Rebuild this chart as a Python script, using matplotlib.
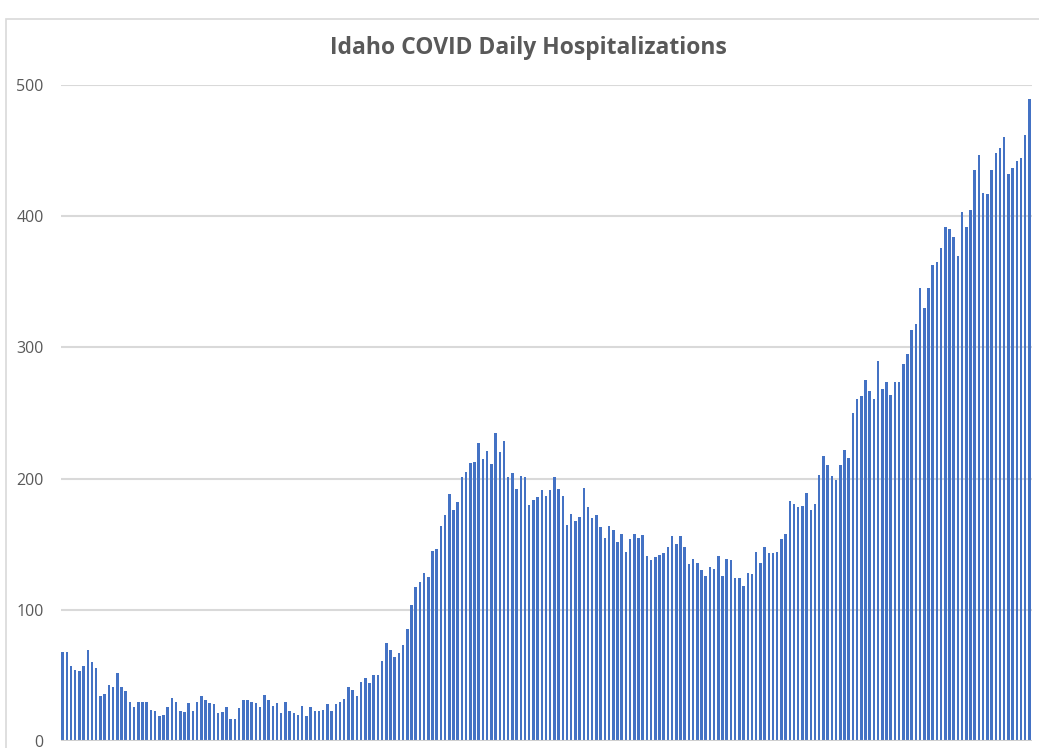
import numpy as np
import matplotlib
matplotlib.use("Agg")
import matplotlib.pyplot as plt
from matplotlib.patches import Rectangle

# daily hospitalizations (231 days)
hosp = [
    68, 68, 57, 54, 53, 57, 69, 60, 56, 34, 36, 43, 41, 52, 41, 38, 30, 26, 30, 30,
    30, 24, 23, 19, 20, 26, 33, 30, 23, 22, 29, 23, 30, 34, 31, 29, 28, 21, 22, 26,
    17, 17, 25, 31, 31, 30, 29, 26, 35, 31, 27, 29, 21, 30, 23, 21, 20, 27, 19, 26,
    23, 23, 24, 28, 23, 28, 30, 32, 41, 39, 34, 45, 48, 44, 50, 50, 61, 75, 69, 64,
    67, 73, 85, 104, 117, 121, 128, 125, 145, 146, 164, 172, 188, 176, 182, 201, 205, 212, 213, 227,
    215, 221, 211, 235, 220, 229, 201, 204, 192, 202, 201, 180, 184, 186, 191, 187, 191, 201, 192, 187,
    165, 173, 168, 171, 193, 178, 170, 172, 163, 155, 164, 161, 152, 158, 144, 154, 158, 155, 157, 141,
    138, 140, 142, 143, 148, 156, 150, 156, 148, 135, 139, 136, 130, 126, 133, 131, 141, 126, 139, 138,
    124, 124, 118, 128, 127, 144, 136, 148, 143, 143, 144, 154, 158, 183, 181, 178, 179, 189, 176, 181,
    203, 217, 210, 202, 199, 210, 222, 216, 250, 261, 263, 275, 267, 261, 290, 268, 274, 264, 274, 274,
    287, 295, 313, 318, 345, 330, 345, 363, 365, 376, 392, 390, 384, 370, 403, 392, 405, 435, 447, 418,
    417, 435, 448, 452, 460, 432, 437, 442, 444, 462, 489,
]
yticks = [0, 100, 200, 300, 400, 500]
title = "Idaho COVID Daily Hospitalizations"

W, H = 1039, 748
fig = plt.figure(figsize=(W / 100, H / 100), dpi=100)
fig.patch.set_facecolor("white")

# chart-area border (cropped screenshot of a spreadsheet chart)
fig.patches.append(Rectangle((5.5 / W, -0.05), 1.1, (H - 19) / H + 0.05,
                             transform=fig.transFigure, fill=False,
                             edgecolor="#d9d9d9", lw=1.2))

ax = fig.add_axes([60.5 / W, (H - 741) / H, 971 / W, (741 - 85) / H])
x = np.arange(len(hosp))
ax.bar(x, hosp, width=0.6, color="#4472C4", zorder=2)
ax.set_xlim(-0.5, len(hosp) - 0.5)
ax.set_ylim(0, 500)
ax.set_yticks(yticks)
ax.yaxis.grid(True, color="#d9d9d9", lw=1.5, zorder=0)
ax.axhline(0, color="#d0d0d0", lw=1.5, zorder=3)
ax.set_xticks([])
for s in ax.spines.values():
    s.set_visible(False)
ax.tick_params(axis="y", length=0, pad=12, labelsize=11.5, labelcolor="#595959")
for lab in ax.get_yticklabels():
    lab.set_family("Open Sans")
    lab.set_fontweight("medium")

fig.text(528 / W, 1 - 48 / H, title, ha="center", va="center",
         fontsize=16.5, color="#595959", family="Open Sans", fontweight="bold")

fig.savefig("out.png", dpi=100)
